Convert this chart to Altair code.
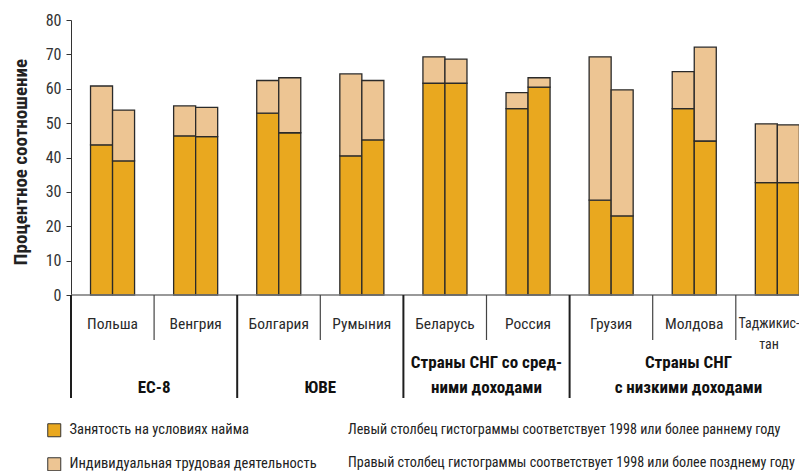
import altair as alt
import pandas as pd

# ---------------- data ----------------
countries = ["Польша", "Венгрия", "Болгария", "Румыния", "Беларусь",
             "Россия", "Грузия", "Молдова", "Таджикистан"]
country_lines = [["Польша"], ["Венгрия"], ["Болгария"], ["Румыния"], ["Беларусь"],
                 ["Россия"], ["Грузия"], ["Молдова"], ["Таджикис-", "тан"]]
group_lines = [["ЕС-8"], ["ЮВЕ"], ["Страны СНГ со сред-", "ними доходами"],
               ["Страны СНГ", "с низкими доходами"]]
group_sizes = [2, 2, 2, 3]

# left bar (1998 or earlier), right bar (1998 or later)
emp_left = [43.7, 46.3, 52.9, 40.5, 61.6, 54.2, 27.6, 54.2, 32.7]
self_left = [17.1, 8.7, 9.5, 23.8, 7.7, 4.7, 41.7, 10.8, 17.1]
emp_right = [39.0, 46.1, 47.2, 45.1, 61.6, 60.5, 23.0, 44.8, 32.7]
self_right = [14.8, 8.5, 16.0, 17.3, 7.0, 2.7, 36.7, 27.3, 16.8]

series = ["Занятость на условиях найма", "Индивидуальная трудовая деятельность"]
colors = ["#E9A81F", "#EDC593"]
notes = ["Левый столбец гистограммы соответствует 1998 или более раннему году",
         "Правый столбец гистограммы соответствует 1998 или более позднему году"]
y_ticks = [0, 10, 20, 30, 40, 50, 60, 70, 80]
y_title = "Процентное соотношение"

# ---------------- layout constants ----------------
FONT = "'Noto Sans ExtraCondensed', 'Noto Sans Condensed', 'Roboto Condensed', 'Liberation Sans Narrow', 'DejaVu Sans Condensed', sans-serif"
W, H = 728, 275
CELL = 83.1
XMAX = W / CELL
BW = 0.265

# ---------------- tables ----------------
bars = []
for i, c in enumerate(countries):
    for side, (e, s) in enumerate([(emp_left[i], self_left[i]), (emp_right[i], self_right[i])]):
        x0 = i + 0.5 - BW if side == 0 else i + 0.5
        bars.append(dict(country=c, series=series[0], x0=x0, x1=x0 + BW, y0=0, y1=e))
        bars.append(dict(country=c, series=series[1], x0=x0, x1=x0 + BW, y0=e, y1=e + s))
bars = pd.DataFrame(bars)

bounds = [0]
for g in group_sizes:
    bounds.append(bounds[-1] + g)
long_div = pd.DataFrame({"x": bounds[:-1]})
short_div = pd.DataFrame({"x": [k for k in range(len(countries)) if k not in bounds]})

clab = []
for i, lines in enumerate(country_lines):
    clipped = i + 1 > XMAX
    cx = (i + XMAX) / 2 + 0.02 if clipped else i + 0.5
    for j, t in enumerate(lines):
        clab.append(dict(x=cx, row=j, text=t, fs=14 if clipped else 15.5))
clab = pd.DataFrame(clab)

glab = []
for gi, lines in enumerate(group_lines):
    gx = (bounds[gi] + min(bounds[gi + 1], XMAX + 0.1)) / 2
    n = len(lines)
    for j, t in enumerate(lines):
        glab.append(dict(x=gx, row=2 - n + j, text=t))
glab = pd.DataFrame(glab)

xscale = alt.Scale(domain=[0, XMAX], nice=False, zero=False)
yscale = alt.Scale(domain=[0, 80], nice=False)

bar_layer = alt.Chart(bars).mark_bar(stroke="#2a2a2a", strokeWidth=1.3).encode(
    x=alt.X("x0:Q", scale=xscale, axis=None),
    x2="x1:Q",
    y=alt.Y("y0:Q", scale=yscale,
            axis=alt.Axis(values=y_ticks, title=None, grid=False, tickSize=5,
                          tickColor="#333", domainColor="#333", labelFont=FONT,
                          labelFontSize=16, labelColor="#333", labelPadding=5,
                          labelOverlap=False)),
    y2="y1:Q",
    color=alt.Color("series:N", scale=alt.Scale(domain=series, range=colors),
                    legend=alt.Legend(orient="none", legendX=-24, legendY=403, title=None,
                                      symbolType="square", symbolSize=169,
                                      symbolStrokeColor="#333", symbolStrokeWidth=1,
                                      symbolOpacity=1, labelFont=FONT, labelFontSize=14.5,
                                      labelColor="#222", labelOffset=8, rowPadding=16,
                                      labelLimit=500, padding=0)),
)

base_rule = alt.Chart(pd.DataFrame({"a": [0]})).mark_rule(color="#777", strokeWidth=1.5).encode(
    x=alt.XDatum(0, scale=xscale, axis=None), x2=alt.X2Datum(XMAX), y=alt.value(H)
)

long_layer = alt.Chart(long_div).mark_rule(color="#1e1e1e", strokeWidth=2).encode(
    x=alt.X("x:Q", scale=xscale, axis=None), y=alt.value(H), y2=alt.value(378)
)
short_layer = alt.Chart(short_div).mark_rule(color="#444", strokeWidth=1.2).encode(
    x=alt.X("x:Q", scale=xscale, axis=None), y=alt.value(H), y2=alt.value(320)
)

def country_rows(row, ypix):
    return alt.Chart(clab).transform_filter(alt.datum.row == row).mark_text(
        font=FONT, align="center", baseline="middle", color="#2a2a2a"
    ).encode(x=alt.X("x:Q", scale=xscale, axis=None), y=alt.value(ypix),
             text="text:N", size=alt.Size("fs:Q", scale=None, legend=None))

def group_rows(row, ypix):
    return alt.Chart(glab).transform_filter(alt.datum.row == row).mark_text(
        font=FONT, align="center", baseline="middle", fontSize=17,
        fontWeight="bold", color="#111"
    ).encode(x=alt.X("x:Q", scale=xscale, axis=None), y=alt.value(ypix), text="text:N")

c1 = country_rows(0, 304)
c2 = country_rows(1, 325)
g1 = group_rows(0, 343)
g2 = group_rows(1, 368)

notes_df = pd.DataFrame({"text": notes, "row": [0, 1]})
n1 = alt.Chart(notes_df).transform_filter(alt.datum.row == 0).mark_text(
    font=FONT, fontSize=14.1, align="left", baseline="middle", color="#222"
).encode(x=alt.value(277), y=alt.value(410), text="text:N")
n2 = alt.Chart(notes_df).transform_filter(alt.datum.row == 1).mark_text(
    font=FONT, fontSize=14.1, align="left", baseline="middle", color="#222"
).encode(x=alt.value(277), y=alt.value(443), text="text:N")

title_layer = alt.Chart(pd.DataFrame({"text": [y_title]})).mark_text(
    font=FONT, fontSize=19, fontWeight="bold", angle=270, align="center",
    baseline="middle", color="#222"
).encode(x=alt.value(-50), y=alt.value(142), text="text:N")

chart = alt.layer(
    bar_layer, base_rule, long_layer, short_layer, c1, c2, g1, g2, n1, n2, title_layer
).properties(
    width=W, height=H,
    autosize=alt.AutoSizeParams(type="none"),
    padding={"left": 63, "top": 12, "right": 0, "bottom": 176},
).configure_view(stroke=None)

chart.save("out.html", embed_options={"renderer": "svg", "actions": False})
